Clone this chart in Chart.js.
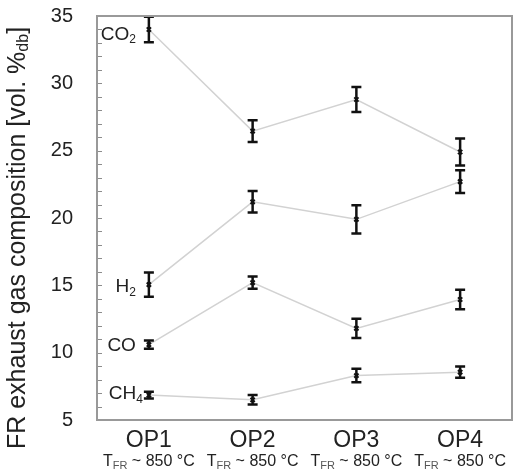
<!DOCTYPE html>
<html>
<head>
<meta charset="utf-8">
<script src="https://cdn.jsdelivr.net/npm/chart.js@4.4.1/dist/chart.umd.min.js"></script>
<style>
  html, body { margin: 0; padding: 0; background: #fff; }
  #wrap { width: 518px; height: 474px; }
</style>
</head>
<body>
<div id="wrap"><canvas id="chart" width="518" height="474"></canvas></div>
<script>
// ── DATA ──
const CATEGORIES = ['OP1', 'OP2', 'OP3', 'OP4']
const TEMPS = ['850', '850', '850', '850']

const CO2 = [34.0, 26.45, 28.8, 24.9]
const CO2_ERR = [0.95, 0.8, 0.93, 1.0]
const H2 = [15.05, 21.2, 19.9, 22.7]
const H2_ERR = [0.9, 0.8, 1.05, 0.85]
const CO = [10.6, 15.2, 11.8, 13.95]
const CO_ERR = [0.3, 0.45, 0.72, 0.72]
const CH4 = [6.85, 6.5, 8.3, 8.55]
const CH4_ERR = [0.25, 0.35, 0.5, 0.42]

const Y_MIN = 5
const Y_MAX = 35

const FONT = '"Liberation Sans", Arial, sans-serif'
const TEXT = '#222'

// label: [main, subscript], dx from OP1 point (right edge), dy
const SERIES = [
  { data: CO2, err: CO2_ERR, label: ['CO', '2'], dx: -13, dy: 5 },
  { data: H2, err: H2_ERR, label: ['H', '2'], dx: -13, dy: 2 },
  { data: CO, err: CO_ERR, label: ['CO', ''], dx: -13, dy: 1 },
  { data: CH4, err: CH4_ERR, label: ['CH', '4'], dx: -6, dy: -1 }
]

// ── HELPERS ──
function drawSub(ctx, x, y, main, sub, size, align) {
  ctx.font = `${size}px ${FONT}`
  const w1 = ctx.measureText(main).width
  ctx.font = `${Math.round(size * 0.65)}px ${FONT}`
  const w2 = sub ? ctx.measureText(sub).width : 0
  let x0 = align === 'right' ? x - w1 - w2 : align === 'center' ? x - (w1 + w2) / 2 : x
  ctx.textAlign = 'left'
  ctx.textBaseline = 'middle'
  ctx.font = `${size}px ${FONT}`
  ctx.fillText(main, x0, y)
  if (sub) {
    ctx.font = `${Math.round(size * 0.65)}px ${FONT}`
    ctx.fillText(sub, x0 + w1, y + size * 0.3)
  }
}

// ── PLUGIN ──
const decor = {
  id: 'decor',
  afterDatasetsDraw(chart) {
    const ctx = chart.ctx
    const { left, right, top, bottom } = chart.chartArea
    const ys = chart.scales.y
    const xs = chart.scales.x
    ctx.save()

    // minor ticks on the left axis, pointing inward
    ctx.strokeStyle = '#8c8c8c'
    ctx.lineWidth = 1
    ys.ticks.forEach(t => {
      const py = Math.round(ys.getPixelForValue(t.value)) + 0.5
      ctx.beginPath()
      ctx.moveTo(left, py)
      ctx.lineTo(left + 5, py)
      ctx.stroke()
    })

    // error bars
    ctx.strokeStyle = '#111'
    SERIES.forEach((s, i) => {
      const meta = chart.getDatasetMeta(i)
      meta.data.forEach((pt, j) => {
        const x = pt.x
        const yHi = ys.getPixelForValue(s.data[j] + s.err[j])
        const yLo = ys.getPixelForValue(s.data[j] - s.err[j])
        ctx.lineWidth = 2.5
        ctx.beginPath()
        ctx.moveTo(x, yHi); ctx.lineTo(x, yLo)
        ctx.stroke()
        ctx.beginPath()
        ctx.moveTo(x - 5, yHi); ctx.lineTo(x + 5, yHi)
        ctx.moveTo(x - 5, yLo); ctx.lineTo(x + 5, yLo)
        ctx.stroke()
      })
    })

    // series labels next to OP1
    ctx.fillStyle = TEXT
    SERIES.forEach((s, i) => {
      const pt = chart.getDatasetMeta(i).data[0]
      drawSub(ctx, pt.x + s.dx, pt.y + s.dy, s.label[0], s.label[1], 19, 'right')
    })

    // plot border
    ctx.strokeStyle = '#999'
    ctx.lineWidth = 2
    ctx.strokeRect(left, top, right - left, bottom - top)

    // second line of x labels
    CATEGORIES.forEach((c, j) => {
      const cx = xs.getPixelForValue(j)
      const y = 462
      ctx.font = `16px ${FONT}`
      const a = 'T'
      const rest = ` ~ ${TEMPS[j]} °C`
      const wa = ctx.measureText(a).width
      const wr = ctx.measureText(rest).width
      ctx.font = `11px ${FONT}`
      const ws = ctx.measureText('FR').width
      let x0 = cx - (wa + ws + wr) / 2
      ctx.textAlign = 'left'
      ctx.textBaseline = 'middle'
      ctx.fillStyle = TEXT
      ctx.font = `16px ${FONT}`
      ctx.fillText(a, x0, y)
      ctx.font = `11px ${FONT}`
      ctx.fillStyle = '#555'
      ctx.fillText('FR', x0 + wa, y + 4)
      ctx.fillStyle = TEXT
      ctx.font = `16px ${FONT}`
      ctx.fillText(rest, x0 + wa + ws, y)
    })

    // y axis title, rotated, with subscript
    ctx.translate(18, (top + bottom) / 2 + 20)
    ctx.rotate(-Math.PI / 2)
    const size = 25
    const p1 = 'FR exhaust gas composition [vol. %'
    const p2 = 'db'
    const p3 = ']'
    ctx.font = `${size}px ${FONT}`
    const w1 = ctx.measureText(p1).width
    const w3 = ctx.measureText(p3).width
    ctx.font = `${Math.round(size * 0.62)}px ${FONT}`
    const w2 = ctx.measureText(p2).width
    let x0 = -(w1 + w2 + w3) / 2
    ctx.textAlign = 'left'
    ctx.textBaseline = 'middle'
    ctx.fillStyle = TEXT
    ctx.font = `${size}px ${FONT}`
    ctx.fillText(p1, x0, 0)
    ctx.font = `${Math.round(size * 0.62)}px ${FONT}`
    ctx.fillText(p2, x0 + w1, 6)
    ctx.font = `${size}px ${FONT}`
    ctx.fillText(p3, x0 + w1 + w2, 0)

    ctx.restore()
  }
}

// ── CHART ──
new Chart(document.getElementById('chart'), {
  type: 'line',
  data: {
    labels: CATEGORIES,
    datasets: SERIES.map(s => ({
      data: s.data,
      borderColor: '#d2d2d2',
      borderWidth: 1.5,
      pointStyle: 'crossRot',
      pointRadius: 3,
      pointBorderWidth: 2,
      pointBorderColor: '#111',
      tension: 0
    }))
  },
  options: {
    responsive: false,
    animation: false,
    layout: { padding: { top: 16, right: 2, left: 0, bottom: 0 } },
    plugins: { legend: { display: false }, tooltip: { enabled: false } },
    scales: {
      x: {
        offset: true,
        grid: { display: false, drawTicks: false },
        border: { display: false },
        ticks: { color: TEXT, font: { family: FONT, size: 23 }, padding: 7 },
        afterFit(scale) {
          scale.height = 54
          scale.paddingLeft = 0
          scale.paddingRight = 0
        }
      },
      y: {
        min: Y_MIN,
        max: Y_MAX,
        grid: { display: false, drawTicks: false },
        border: { display: false },
        ticks: {
          stepSize: 1,
          autoSkip: false,
          color: TEXT,
          font: { family: FONT, size: 20 },
          padding: 24,
          callback: v => v % 5 === 0 ? v : ''
        },
        afterFit(scale) {
          scale.width = 97
          scale.paddingTop = 0
          scale.paddingBottom = 0
        }
      }
    }
  },
  plugins: [decor]
})
</script>
</body>
</html>
